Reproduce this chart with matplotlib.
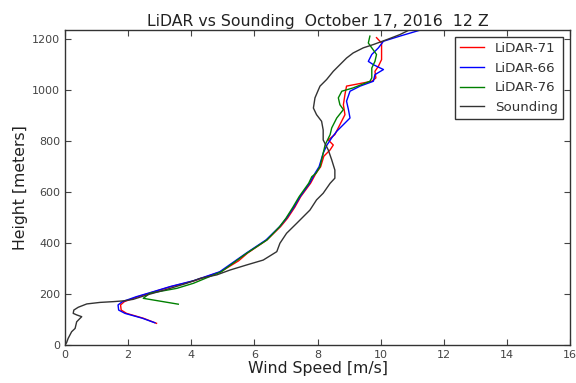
import matplotlib
matplotlib.use("Agg")
import matplotlib.pyplot as plt

# LiDAR-71 (red)
h71 = [85, 105, 124, 137, 157, 170, 189, 205, 229, 252, 287, 330, 360, 412, 464, 497, 540, 582,
       634, 673, 699, 740, 765, 784, 804, 825, 864, 903, 942, 982, 1015, 1034, 1047, 1073, 1093,
       1119, 1184, 1205]
v71 = [2.90, 2.48, 1.95, 1.78, 1.76, 1.88, 2.30, 2.72, 3.36, 4.10, 4.93, 5.50, 5.78, 6.40, 6.83,
       7.05, 7.28, 7.47, 7.78, 7.95, 8.10, 8.20, 8.40, 8.50, 8.34, 8.55, 8.71, 8.87, 8.82, 8.87,
       8.92, 9.72, 9.85, 9.82, 9.93, 10.03, 10.03, 9.87]

# LiDAR-66 (blue)
h66 = [87, 105, 124, 137, 157, 170, 189, 205, 229, 252, 287, 360, 412, 464, 497, 540, 582, 634,
       673, 699, 752, 784, 812, 838, 864, 890, 923, 956, 995, 1015, 1034, 1060, 1080, 1099, 1112,
       1139, 1165, 1191, 1211, 1240]
v66 = [2.85, 2.45, 1.90, 1.70, 1.68, 1.82, 2.25, 2.69, 3.33, 4.07, 4.90, 5.74, 6.37, 6.80, 7.02,
       7.25, 7.45, 7.75, 7.92, 8.05, 8.18, 8.30, 8.45, 8.61, 8.82, 9.03, 8.98, 8.92, 9.03, 9.35,
       9.77, 9.82, 10.09, 9.77, 9.61, 9.72, 9.93, 10.09, 10.61, 11.40]

# LiDAR-76 (green)
h76 = [160, 183, 203, 222, 242, 287, 360, 412, 464, 497, 540, 582, 634, 660, 673, 699, 752, 784,
       825, 851, 890, 923, 942, 969, 995, 1008, 1034, 1047, 1086, 1112, 1139, 1165, 1184, 1211]
v76 = [3.59, 2.48, 2.69, 3.54, 4.07, 4.95, 5.76, 6.40, 6.80, 7.00, 7.22, 7.42, 7.72, 7.82, 7.95,
       8.08, 8.18, 8.24, 8.40, 8.45, 8.61, 8.82, 8.71, 8.66, 8.77, 9.13, 9.66, 9.72, 9.72, 9.82,
       9.87, 9.72, 9.61, 9.66]

# Sounding (black)
h_snd = [0, 9, 26, 52, 65, 91, 105, 111, 118, 124, 137, 148, 161, 167, 170, 173, 179, 196, 218,
         242, 261, 275, 294, 314, 333, 366, 399, 438, 477, 503, 529, 569, 595, 634, 654, 686, 726,
         765, 804, 843, 877, 903, 929, 969, 1001, 1015, 1041, 1073, 1099, 1125, 1145, 1165, 1178,
         1197, 1217, 1243]
v_snd = [0.0, 0.05, 0.10, 0.21, 0.32, 0.37, 0.48, 0.53, 0.37, 0.26, 0.28, 0.42, 0.69, 1.11, 1.53,
         1.85, 2.16, 2.59, 3.22, 3.86, 4.28, 4.81, 5.23, 5.76, 6.28, 6.71, 6.81, 7.02, 7.34, 7.55,
         7.76, 7.97, 8.18, 8.40, 8.55, 8.55, 8.45, 8.34, 8.18, 8.18, 8.13, 7.97, 7.87, 7.92, 8.03,
         8.08, 8.29, 8.50, 8.71, 8.92, 9.13, 9.45, 9.77, 10.19, 10.61, 11.04]

xticks = [0, 2, 4, 6, 8, 10, 12, 14, 16]
yticks = [0, 200, 400, 600, 800, 1000, 1200]

fig = plt.figure(figsize=(5.76, 3.83), dpi=100)
ax = fig.add_axes([65/576, 1 - 345/383, 505/576, 315/383])

ax.plot(v71, h71, color='red', lw=1.0, label='LiDAR-71')
ax.plot(v66, h66, color='blue', lw=1.0, label='LiDAR-66')
ax.plot(v76, h76, color='green', lw=1.0, label='LiDAR-76')
ax.plot(v_snd, h_snd, color='#333333', lw=1.0, label='Sounding')

ax.set_xlim(0, 16)
ax.set_ylim(0, 1235)
ax.set_xticks(xticks)
ax.set_yticks(yticks)
ax.tick_params(direction='in', top=True, right=True, labelsize=8, length=4, colors='#444444',
               labelcolor='#444444')
for s in ax.spines.values():
    s.set_color('#333333')
    s.set_linewidth(1.0)

ax.set_xlabel('Wind Speed [m/s]', fontsize=11.3, color='#222222', labelpad=1)
ax.set_ylabel('Height [meters]', fontsize=11.3, color='#222222', labelpad=3)
ax.set_title('LiDAR vs Sounding  October 17, 2016  12 Z', fontsize=11.3, color='#222222', pad=3)

leg = ax.legend(loc='upper right', fontsize=9.6, frameon=True, fancybox=False, edgecolor='#333333',
                framealpha=1.0, handlelength=1.8, borderaxespad=0.5, labelspacing=0.5)
leg.get_frame().set_linewidth(1.0)
for t in leg.get_texts():
    t.set_color('#333333')

fig.savefig('out.png', dpi=100, facecolor='white')
